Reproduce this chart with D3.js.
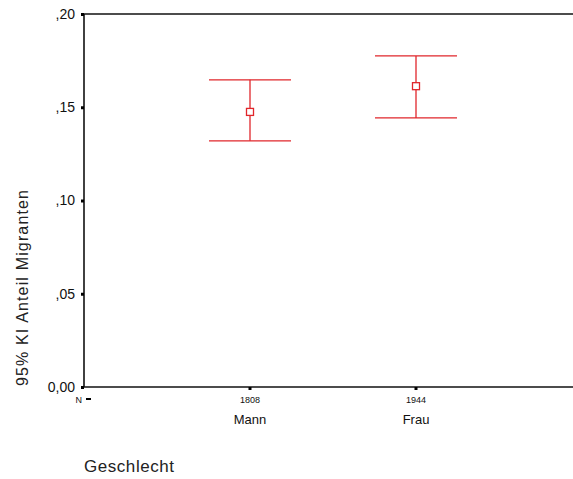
<!DOCTYPE html>
<html><head><meta charset="utf-8">
<script src="https://cdn.jsdelivr.net/npm/d3@7"></script>
<style>body{margin:0;background:#fff}svg{display:block}text{font-family:Arial,"Liberation Sans",sans-serif}</style>
</head><body>
<script>
const categories = ["Mann", "Frau"];
const counts = ["1808", "1944"];
const means = [0.1475, 0.1613];
const lowers = [0.1320, 0.1443];
const uppers = [0.1647, 0.1775];
const yTicks = [0, 0.05, 0.10, 0.15, 0.20];
const yTickLabels = ["0,00", ",05", ",10", ",15", ",20"];

const W = 573, H = 479;
const svg = d3.select("body").append("svg").attr("width", W).attr("height", H);
const x0 = 84, y0 = 387, yTop = 14;
const y = d3.scaleLinear().domain([0, 0.2]).range([y0, yTop]);
const x = d3.scalePoint().domain(["N", ...categories, "_end"]).range([x0, x0 + 3 * 166]);

// frame
svg.append("line").attr("x1", x0).attr("x2", W).attr("y1", yTop).attr("y2", yTop).attr("stroke", "#111").attr("stroke-width", 1.6);
svg.append("line").attr("x1", x0).attr("x2", W).attr("y1", y0).attr("y2", y0).attr("stroke", "#111").attr("stroke-width", 1.6);
svg.append("line").attr("x1", x0).attr("x2", x0).attr("y1", yTop).attr("y2", y0).attr("stroke", "#111").attr("stroke-width", 1.6);

// y axis
const yAxis = d3.axisLeft(y).tickValues(yTicks).tickFormat((d, i) => yTickLabels[i]).tickSize(3).tickPadding(6);
const ga = svg.append("g").attr("transform", `translate(${x0},0)`).call(yAxis);
ga.select(".domain").remove();
ga.selectAll(".tick line").attr("stroke", "#000").attr("stroke-width", 3);
ga.selectAll(".tick text").attr("font-size", 14).attr("fill", "#111").attr("font-family", "Arial, Liberation Sans, sans-serif");

// x ticks
categories.forEach((c, i) => {
  const cx = x(c);
  svg.append("rect").attr("x", cx - 1.5).attr("y", y0).attr("width", 3).attr("height", 3).attr("fill", "#000");
  svg.append("text").attr("x", cx).attr("y", y0 + 16).attr("text-anchor", "middle").attr("font-size", 9).attr("fill", "#111").text(counts[i]);
  svg.append("text").attr("x", cx).attr("y", y0 + 37).attr("text-anchor", "middle").attr("font-size", 13).attr("fill", "#111").text(c);
});
svg.append("text").attr("x", x("N") - 2).attr("y", y0 + 16).attr("text-anchor", "end").attr("font-size", 9).attr("fill", "#111").text("N");
svg.append("rect").attr("x", x("N") + 2).attr("y", y0 + 11).attr("width", 5).attr("height", 2).attr("fill", "#000");

// error bars
const red = "#e0262b";
const g = svg.append("g").attr("stroke", red).attr("fill", "none").attr("stroke-width", 1.3);
categories.forEach((c, i) => {
  const cx = x(c), hw = 41;
  g.append("line").attr("x1", cx).attr("x2", cx).attr("y1", y(uppers[i])).attr("y2", y(lowers[i]));
  g.append("line").attr("x1", cx - hw).attr("x2", cx + hw).attr("y1", y(uppers[i])).attr("y2", y(uppers[i]));
  g.append("line").attr("x1", cx - hw).attr("x2", cx + hw).attr("y1", y(lowers[i])).attr("y2", y(lowers[i]));
  g.append("rect").attr("x", cx - 3.5).attr("y", y(means[i]) - 3.5).attr("width", 7).attr("height", 7).attr("fill", "#fff");
});

// titles
svg.append("text").attr("transform", `translate(28,${288}) rotate(-90)`).attr("text-anchor", "middle").attr("font-size", 16)
  .attr("textLength", 196).attr("lengthAdjust", "spacing").attr("fill", "#222").text("95% KI Anteil Migranten");
svg.append("text").attr("x", 84).attr("y", 472).attr("font-size", 17).attr("textLength", 90).attr("lengthAdjust", "spacing")
  .attr("fill", "#222").text("Geschlecht");
</script>
</body></html>
